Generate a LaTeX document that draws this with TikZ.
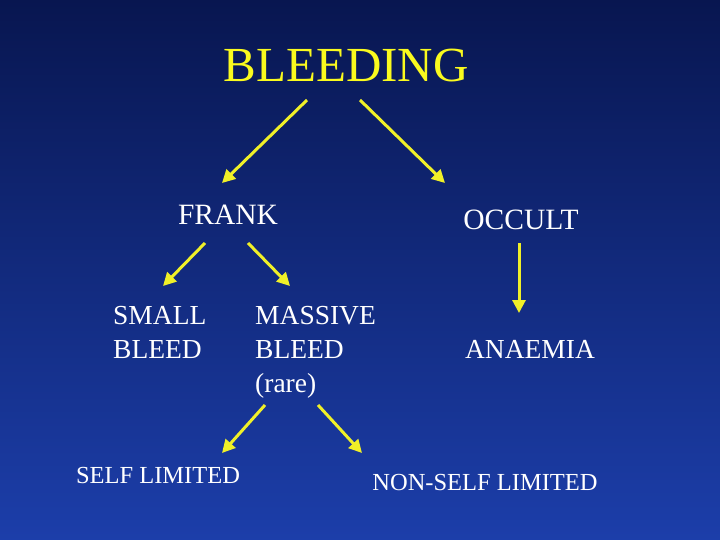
\documentclass[tikz,border=0pt]{standalone}
\usepackage{fontspec}
\setmainfont{Liberation Serif}
\usetikzlibrary{arrows.meta}
\begin{document}
\begin{tikzpicture}[x=1pt,y=-1pt,
  arr/.style={draw={rgb,255:red,240;green,240;blue,40},line width=3pt,-{Triangle[length=13pt,width=13pt]}},
  lbl/.style={text=white,inner sep=0pt,font=\fontsize{27.5}{34}\selectfont,align=left}]
\shade[top color={rgb,255:red,8;green,22;blue,80},bottom color={rgb,255:red,28;green,62;blue,170}] (0,0) rectangle (720,540);
\useasboundingbox (0,0) rectangle (720,540);
\node[text={rgb,255:red,250;green,250;blue,30},font=\fontsize{49}{56}\selectfont] (bl) at (346,66) {BLEEDING};
\node[lbl,font=\fontsize{29.5}{34}\selectfont] (fr) at (228,215) {FRANK};
\node[lbl,font=\fontsize{29.5}{34}\selectfont] (oc) at (521,220) {OCCULT};
\node[lbl,anchor=north west] (sb) at (113,306) {SMALL\\BLEED};
\node[lbl,anchor=north west] (mb) at (255,306) {MASSIVE\\BLEED\\(rare)};
\node[lbl] (an) at (530,349) {ANAEMIA};
\node[lbl,font=\fontsize{24.5}{28}\selectfont] (sl) at (158,476) {SELF LIMITED};
\node[lbl,font=\fontsize{24.5}{28}\selectfont] (ns) at (485,483) {NON-SELF LIMITED};
\coordinate (a1) at (307,100); \coordinate (b1) at (222,183);
\coordinate (a2) at (360,100); \coordinate (b2) at (445,183);
\coordinate (a3) at (205,243); \coordinate (b3) at (163,286);
\coordinate (a4) at (248,243); \coordinate (b4) at (290,286);
\coordinate (a5) at (519,243); \coordinate (b5) at (519,313);
\coordinate (a6) at (265,405); \coordinate (b6) at (222,453);
\coordinate (a7) at (318,405); \coordinate (b7) at (362,453);
\foreach \i in {1,...,7} \draw[arr] (a\i) -- (b\i);
\end{tikzpicture}
\end{document}
